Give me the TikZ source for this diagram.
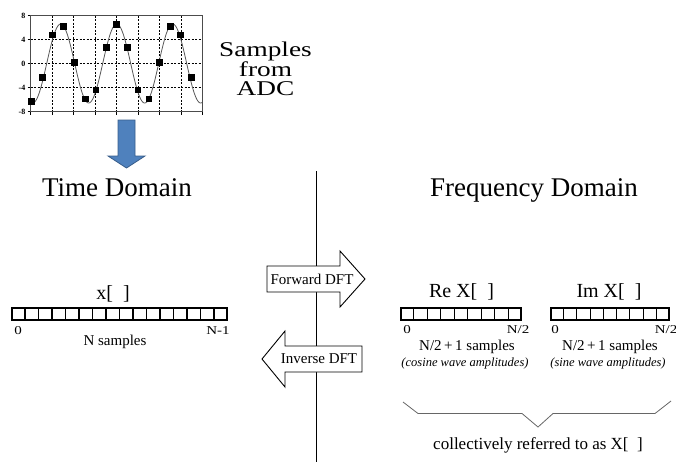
\documentclass[tikz,border=0pt]{standalone}
\usepackage{fontspec}
\setmainfont{Liberation Serif}
\usetikzlibrary{calc}
\newcommand\mystretch[2]{\scalebox{#1}[1]{#2}}
\definecolor{adcblue}{RGB}{79,129,189}
\definecolor{adcblueline}{RGB}{56,93,138}
\begin{document}
\begin{tikzpicture}[x=1pt,y=-1pt,
  every node/.style={inner sep=0pt},
  cellbox/.style={draw, line width=1.2pt, minimum height=12pt},
  bigarrow/.style={draw, fill=white, line width=0.9pt, line join=miter},
  gridline/.style={dash pattern=on 2pt off 1.5pt, line width=0.7pt},
  title/.style={font=\fontsize{27}{32}\selectfont, anchor=base},
  arrlabel/.style={font=\fontsize{20}{24}\selectfont, anchor=base},
  lbl/.style={font=\fontsize{15}{18}\selectfont},
  idx/.style={font=\fontsize{12}{14}\selectfont},
  note/.style={font=\fontsize{12.5}{15}\selectfont\itshape},
  ylab/.style={font=\fontsize{8}{9}\selectfont\bfseries, anchor=east},
  dftlabel/.style={font=\fontsize{15}{18}\selectfont},
]
\useasboundingbox (0,0) rectangle (676,461);

% ---------- plot of samples ----------
\foreach \x in {52,73.5,95,116.5,138,159.5,181}
  \draw[gridline] (\x,15.5) -- (\x,111.5);
\foreach \v in {4,0,-4}
  \draw[gridline] (30.5,{63.5-6*\v}) -- (202,{63.5-6*\v});
\foreach \x in {30.5,52,73.5,95,116.5,138,159.5,181,202}
  \draw[line width=0.6pt] (\x,111.5) -- (\x,115);
\foreach \v in {8,4,0,-4,-8}{
  \draw[line width=0.6pt] (27.5,{63.5-6*\v}) -- (30.5,{63.5-6*\v});
  \node[ylab] (yl\v) at (25.5,{63.5-6*\v}) {\v};
}
\draw[line width=0.8pt, gray!60!black] (30.5,15.5) rectangle (202,111.5);
\draw[gray!70!black, line width=0.8pt, domain=30.5:202, samples=200, smooth]
  plot (\x, {63.5-39.5*cos(6.428571*(\x-116.7))});
\foreach \px/\py in {31.7/101.7, 42.3/77.7, 52.7/35, 63.3/26.7, 74.7/62.3,
  85.3/99, 96/90, 106.7/47.7, 116.7/24.3, 127.7/47.7, 138/90, 149/99,
  159.3/62.3, 170.3/26.7, 180.7/35, 191.3/77.7}
  \fill (\px,\py) +(-3.3,-3.3) rectangle +(3.3,3.3);

\node (adc) at (265.5,71.4) {\fontsize{21}{18}\selectfont\mystretch{1.3}{\begin{tabular}{@{}c@{}}Samples\\from\\ADC\end{tabular}}};

% blue arrow
\draw[fill=adcblue, draw=adcblueline, line width=0.8pt, line join=miter]
  (118,120) -- (135,120) -- (135,156) -- (145,156) -- (126.5,168) -- (108,156) -- (118,156) -- cycle;

% ---------- titles and divider ----------
\node[title] (td) at (117,196) {Time Domain};
\node[title] (fd) at (534,196) {Frequency Domain};
\coordinate (vtop) at (316,171);
\coordinate (vbot) at (316,462);
\draw[line width=0.8pt] (vtop) -- (vbot);

% ---------- DFT arrows ----------
\draw[bigarrow] (267,266) -- (340,266) -- (340,251) -- (365,279) -- (340,307) -- (340,292) -- (267,292) -- cycle;
\node[dftlabel] (fwd) at (312,279) {Forward DFT};
\draw[bigarrow] (362,346) -- (285,346) -- (285,331) -- (262,359) -- (285,387) -- (285,372) -- (362,372) -- cycle;
\node[dftlabel] (inv) at (319,359) {Inverse DFT};

% ---------- x[ ] array ----------
\node[arrlabel] (xl) at (113,299) {x[~~]};
\node[cellbox, minimum width=215pt] (xarr) at (119.5,314) {};
\foreach \i in {1,...,15}
  \draw[line width=1.2pt] ($(xarr.north west)!\i/16!(xarr.north east)$) -- ($(xarr.south west)!\i/16!(xarr.south east)$);
\node[idx] (x0) at (18,331) {\mystretch{1.25}{0}};
\node[idx] (xn) at (218,331) {\mystretch{1.25}{N-1}};
\node[lbl] (xs) at (115,342) {N samples};

% ---------- Re X[ ] array ----------
\node[arrlabel] (rel) at (461.5,297) {Re X[~~]};
\node[cellbox, minimum width=120pt] (rearr) at (461,314) {};
\foreach \i in {1,...,8}
  \draw[line width=1.2pt] ($(rearr.north west)!\i/9!(rearr.north east)$) -- ($(rearr.south west)!\i/9!(rearr.south east)$);
\node[idx] (re0) at (407,330) {\mystretch{1.25}{0}};
\node[idx] (ren) at (518,330) {\mystretch{1.25}{N/2}};
\node[lbl] (res) at (467,347) {N/2\,+\,1 samples};
\node[note] (ren2) at (465,363) {(cosine wave amplitudes)};

% ---------- Im X[ ] array ----------
\node[arrlabel] (iml) at (609,297) {Im X[~~]};
\node[cellbox, minimum width=118pt] (imarr) at (610,314) {};
\foreach \i in {1,...,8}
  \draw[line width=1.2pt] ($(imarr.north west)!\i/9!(imarr.north east)$) -- ($(imarr.south west)!\i/9!(imarr.south east)$);
\node[idx] (im0) at (555,330) {\mystretch{1.25}{0}};
\node[idx] (imn) at (666,330) {\mystretch{1.25}{N/2}};
\node[lbl] (ims) at (610,347) {N/2\,+\,1 samples};
\node[note] (imn2) at (608,363) {(sine wave amplitudes)};

% ---------- brace ----------
\draw[gray!80!black, line width=0.8pt] (403,402) -- (418,413.5) -- (522,413.5) -- (538,427) -- (553,413.5) -- (655,413.5) -- (671,401);
\node[font=\fontsize{17}{20}\selectfont] (coll) at (538,445) {collectively referred to as X[~~]};
\end{tikzpicture}
\end{document}
